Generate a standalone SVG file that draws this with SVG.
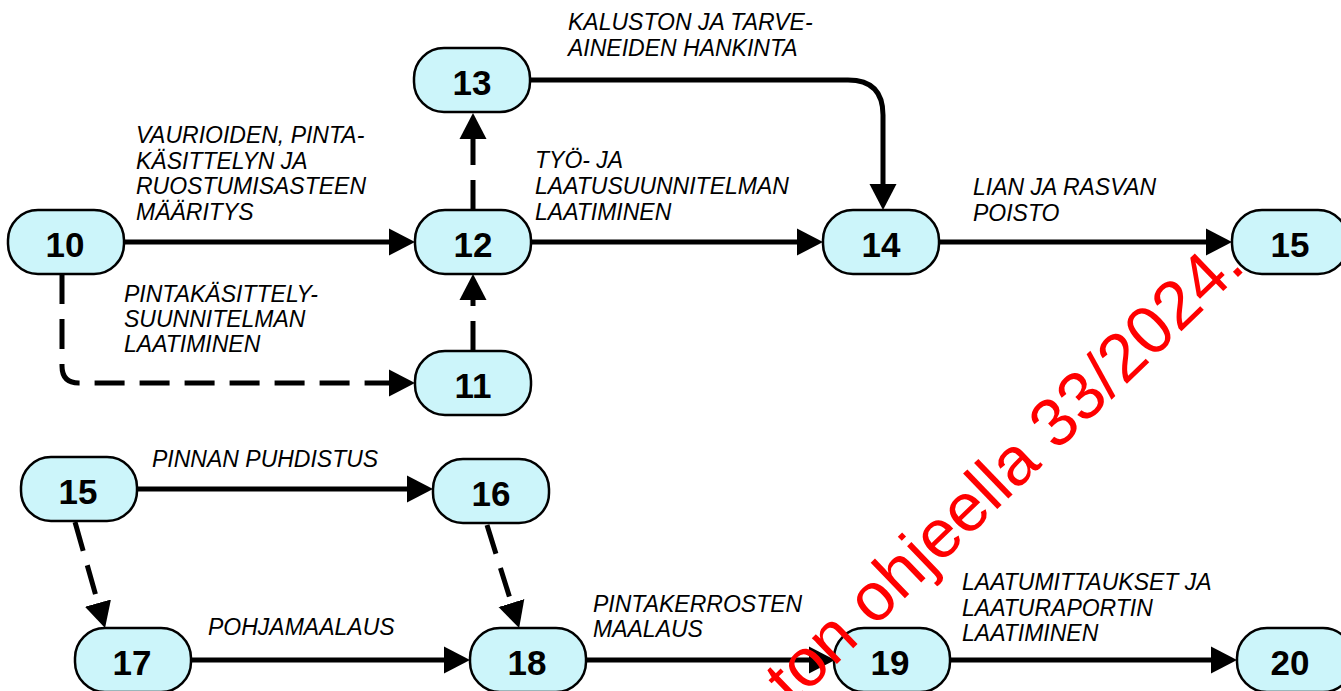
<svg xmlns="http://www.w3.org/2000/svg" width="1341" height="691" viewBox="0 0 1341 691">
<style>
.node rect{fill:#CCF5FA;stroke:#000;stroke-width:2.5}
.node text{font-family:"Liberation Sans",Arial,sans-serif;font-weight:bold;font-size:35px;text-anchor:middle;fill:#000}
.lbl{font-family:"Liberation Sans",Arial,sans-serif;font-style:italic;font-size:23px;fill:#000}
.c{fill:none;stroke:#000;stroke-width:5;marker-end:url(#ah)}
.d{stroke-dasharray:30 15}
.wm{font-family:"Liberation Sans",Arial,sans-serif;font-size:68px;fill:#FF0000;text-anchor:end}
</style>
<defs>
<marker id="ah" markerUnits="userSpaceOnUse" markerWidth="30" markerHeight="30" viewBox="0 -15 30 30" refX="2" refY="0" orient="auto">
<path d="M0,-13.5 L26,0 L0,13.5 z" fill="#000"/>
</marker>
</defs>
<rect width="1341" height="691" fill="#fff"/>
<g id="connectors">
<path class="c" d="M124 242 H391"/>
<path class="c" d="M531 242 H799"/>
<path class="c" d="M939 242 H1208"/>
<path class="c" d="M530 80 H848 Q883 80 883 115 V186"/>
<path class="c d" d="M473 210 V137"/>
<path class="c d" d="M473 351 V298"/>
<path class="c d" d="M62 274 V366 Q62 383 79 383 H391"/>
<path class="c" d="M137 489 H409"/>
<path class="c" d="M191 660 H446"/>
<path class="c" d="M586 660 H811"/>
<path class="c" d="M950 660 H1213"/>
<path class="c d" d="M75 522 L98.5 605"/>
<path class="c d" d="M487 525 L512 605"/>
</g>
<g id="labels">
<text class="lbl"><tspan x="136" y="143">VAURIOIDEN, PINTA-</tspan><tspan x="136" y="168.5">KÄSITTELYN JA</tspan><tspan x="136" y="194">RUOSTUMISASTEEN</tspan><tspan x="136" y="219.5">MÄÄRITYS</tspan></text>
<text class="lbl"><tspan x="124" y="302">PINTAKÄSITTELY-</tspan><tspan x="124" y="327">SUUNNITELMAN</tspan><tspan x="124" y="352">LAATIMINEN</tspan></text>
<text class="lbl"><tspan x="535" y="168">TYÖ- JA</tspan><tspan x="535" y="194">LAATUSUUNNITELMAN</tspan><tspan x="535" y="220">LAATIMINEN</tspan></text>
<text class="lbl"><tspan x="568" y="30">KALUSTON JA TARVE-</tspan><tspan x="568" y="56">AINEIDEN HANKINTA</tspan></text>
<text class="lbl"><tspan x="973" y="195">LIAN JA RASVAN</tspan><tspan x="973" y="221">POISTO</tspan></text>
<text class="lbl" x="152" y="467">PINNAN PUHDISTUS</text>
<text class="lbl" x="208" y="635">POHJAMAALAUS</text>
<text class="lbl"><tspan x="593" y="612">PINTAKERROSTEN</tspan><tspan x="593" y="637">MAALAUS</tspan></text>
<text class="lbl"><tspan x="962" y="590">LAATUMITTAUKSET JA</tspan><tspan x="962" y="616">LAATURAPORTIN</tspan><tspan x="962" y="641">LAATIMINEN</tspan></text>
</g>
<g id="n10" class="node"><rect x="8" y="210" width="116" height="64" rx="30"/><text x="65" y="257">10</text></g>
<g id="n12" class="node"><rect x="415" y="210" width="116" height="64" rx="30"/><text x="473" y="257">12</text></g>
<g id="n13" class="node"><rect x="414" y="48" width="116" height="64" rx="30"/><text x="472" y="95">13</text></g>
<g id="n11" class="node"><rect x="415" y="351" width="116" height="64" rx="30"/><text x="473" y="398">11</text></g>
<g id="n14" class="node"><rect x="823" y="210" width="116" height="64" rx="30"/><text x="881" y="257">14</text></g>
<g id="n15a" class="node"><rect x="1232" y="210" width="116" height="64" rx="30"/><text x="1290" y="257">15</text></g>
<g id="n15b" class="node"><rect x="21" y="457" width="116" height="64" rx="30"/><text x="78" y="504">15</text></g>
<g id="n16" class="node"><rect x="433" y="459" width="116" height="64" rx="30"/><text x="491" y="506">16</text></g>
<g id="n17" class="node"><rect x="75" y="628" width="116" height="64" rx="30"/><text x="132" y="675">17</text></g>
<g id="n18" class="node"><rect x="470" y="628" width="116" height="64" rx="30"/><text x="527" y="675">18</text></g>
<g id="n19" class="node"><rect x="834" y="628" width="116" height="64" rx="30"/><text x="890" y="675">19</text></g>
<g id="n20" class="node"><rect x="1237" y="628" width="116" height="64" rx="30"/><text x="1290" y="675">20</text></g>
<text class="wm" x="1247" y="268" transform="rotate(-44 1247 268)">ton ohjeella 33/2024.</text>
</svg>
